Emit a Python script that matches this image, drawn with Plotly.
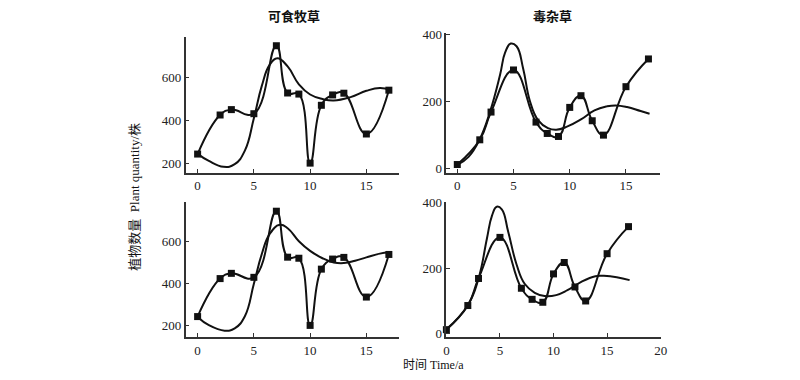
import plotly.graph_objects as go

# ---- data ----
obs_t = [0, 2, 3, 5, 7, 8, 9, 10, 11, 12, 13, 15, 17]
forage_obs = [244, 425, 450, 431, 746, 527, 522, 202, 470, 518, 526, 337, 540]
weed_obs = [11, 85, 168, 294, 138, 104, 95, 182, 217, 142, 99, 244, 327]

forage_model1_t = [0, 1, 2.3, 3.3, 4.2, 5, 5.7, 6.4, 7.1, 8, 9, 10, 11.1, 12.1, 13.6, 15, 16.2, 17.1]
forage_model1_v = [245, 212, 185, 197, 260, 410, 559, 657, 688, 650, 567, 520, 499, 492, 508, 537, 550, 542]

weed_model1_t = [0, 1, 2, 2.9, 3.8, 4.25, 4.75, 5.27, 5.86, 6.45, 7.18, 8.06, 8.8, 9.8, 11, 12.2, 13.3, 14.1, 15.1, 16.3, 17.1]
weed_model1_v = [10, 34, 87, 168, 279, 346, 373, 365, 298, 202, 144, 120, 115, 125, 146, 173, 185, 188, 183, 171, 163]

forage_model2_t = [0, 1, 2.4, 3.3, 4.2, 5, 5.7, 6.4, 7.3, 8, 9, 10, 11.1, 12.1, 13, 14, 15, 16.2, 17]
forage_model2_v = [242, 203, 177, 188, 246, 400, 541, 637, 681, 665, 603, 557, 522, 502, 499, 510, 526, 544, 549]

weed_model2_t = [0, 2, 3, 3.78, 4.25, 4.7, 5.17, 5.78, 6.55, 7.32, 8.25, 9.17, 10.25, 11.3, 12.55, 13.9, 14.7, 15.9, 17.1]
weed_model2_v = [12, 86, 168, 290, 360, 388, 380, 310, 211, 151, 124, 114, 117, 132, 157, 175, 176, 172, 163]

titles = ["可食牧草", "毒杂草"]
ylabel = "植物数量  Plant quantity/株"
xlabel = "时间 Time/a"

FONT = "Liberation Serif, Noto Sans CJK SC, serif"
LINE = dict(color="#111111", width=2, shape="spline", smoothing=1.3)
MARK = dict(symbol="square", size=7, color="#111111")

fig = go.Figure()

def add(xa, ya, t_obs, v_obs, t_mod, v_mod):
    fig.add_trace(go.Scatter(x=t_mod, y=v_mod, mode="lines", line=LINE, cliponaxis=False,
                             xaxis=xa, yaxis=ya, showlegend=False, hoverinfo="skip"))
    fig.add_trace(go.Scatter(x=t_obs, y=v_obs, mode="lines+markers", line=LINE, cliponaxis=False,
                             marker=MARK, xaxis=xa, yaxis=ya, showlegend=False))

add("x", "y", obs_t, forage_obs, forage_model1_t, forage_model1_v)
add("x2", "y2", obs_t, weed_obs, weed_model1_t, weed_model1_v)
add("x3", "y3", obs_t, forage_obs, forage_model2_t, forage_model2_v)
add("x4", "y4", obs_t, weed_obs, weed_model2_t, weed_model2_v)

W, H = 800, 380
def px_x(a, b):
    return [a / W, b / W]
def px_y(top, bottom):
    return [1 - bottom / H, 1 - top / H]

ax_common = dict(showline=True, linecolor="#333333", linewidth=1.5, ticks="inside",
                 ticklen=4, tickcolor="#333333", tickwidth=1, showgrid=False, zeroline=False,
                 tickfont=dict(family=FONT, size=13, color="#222222"), fixedrange=True)

fig.update_layout(
    width=W, height=H, margin=dict(l=0, r=0, t=0, b=0),
    paper_bgcolor="white", plot_bgcolor="white",
    xaxis=dict(ax_common, domain=px_x(185, 401), range=[-1.06, 17.9], tickvals=[0, 5, 10, 15], anchor="y"),
    yaxis=dict(ax_common, domain=px_y(31, 171), range=[156, 786], tickvals=[200, 400, 600], anchor="x"),
    xaxis2=dict(ax_common, domain=px_x(449, 665), range=[-0.97, 18.0], tickvals=[0, 5, 10, 15], anchor="y2"),
    yaxis2=dict(ax_common, domain=px_y(27, 171), range=[-14.5, 404], tickvals=[0, 200, 400], anchor="x2"),
    xaxis3=dict(ax_common, domain=px_x(185, 401), range=[-1.06, 17.9], tickvals=[0, 5, 10, 15], anchor="y3"),
    yaxis3=dict(ax_common, domain=px_y(201, 340), range=[146, 789], tickvals=[200, 400, 600], anchor="x3"),
    xaxis4=dict(ax_common, domain=px_x(449, 666), range=[0, 20], tickvals=[0, 5, 10, 15, 20], anchor="y4"),
    yaxis4=dict(ax_common, domain=px_y(201, 340), range=[-12, 402], tickvals=[0, 200, 400], anchor="x4"),
)

def note(text, x, y, size, angle=0):
    fig.add_annotation(text=text, x=x / W, y=1 - y / H, xref="paper", yref="paper",
                       xanchor="center", yanchor="middle", showarrow=False, textangle=angle,
                       font=dict(family=FONT, size=size, color="#111111"))

note(f"<b>{titles[0]}</b>", 295, 10, 13)
note(f"<b>{titles[1]}</b>", 556, 10, 13)
note(ylabel, 133, 195, 13, angle=-90)
note(xlabel, 436, 369, 12)

fig.write_html("out.html", config={"displayModeBar": False},
               post_script="document.body.style.margin='0';document.body.style.overflow='hidden';")
